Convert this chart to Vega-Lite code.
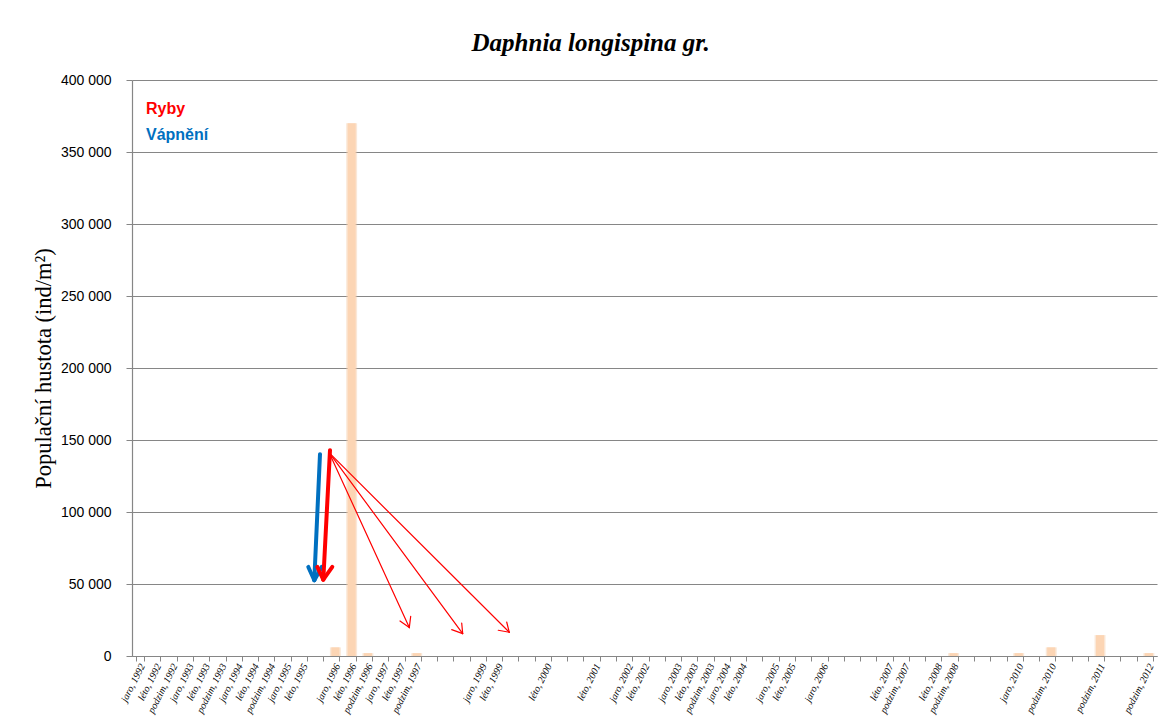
{
  "$schema": "https://vega.github.io/schema/vega-lite/v6.json",
  "width": 1025,
  "height": 576,
  "autosize": {"type": "none"},
  "padding": {"left": 132, "top": 80, "right": 7, "bottom": 62},
  "background": "white",
  "title": {
    "text": "Daphnia longispina gr.",
    "font": "Liberation Serif",
    "fontSize": 25,
    "fontWeight": "bold",
    "fontStyle": "italic",
    "color": "black",
    "anchor": "middle",
    "frame": "bounds",
    "offset": 17,
    "dx": -4
  },
  "config": {
    "view": {"stroke": null},
    "locale": {
      "number": {"decimal": ",", "thousands": " ", "grouping": [3], "currency": ["", " Kč"]}
    }
  },
  "datasets": {
    "hustota": [
      {"sezona": "jaro, 1992", "hodnota": 0},
      {"sezona": "léto, 1992", "hodnota": 0},
      {"sezona": "podzim, 1992", "hodnota": 0},
      {"sezona": "jaro, 1993", "hodnota": 0},
      {"sezona": "léto, 1993", "hodnota": 0},
      {"sezona": "podzim, 1993", "hodnota": 0},
      {"sezona": "jaro, 1994", "hodnota": 0},
      {"sezona": "léto, 1994", "hodnota": 0},
      {"sezona": "podzim, 1994", "hodnota": 0},
      {"sezona": "jaro, 1995", "hodnota": 0},
      {"sezona": "léto, 1995", "hodnota": 0},
      {"sezona": "podzim, 1995", "hodnota": null},
      {"sezona": "jaro, 1996", "hodnota": 6000},
      {"sezona": "léto, 1996", "hodnota": 370000},
      {"sezona": "podzim, 1996", "hodnota": 2000},
      {"sezona": "jaro, 1997", "hodnota": 0},
      {"sezona": "léto, 1997", "hodnota": 0},
      {"sezona": "podzim, 1997", "hodnota": 2000},
      {"sezona": "jaro, 1998", "hodnota": null},
      {"sezona": "léto, 1998", "hodnota": null},
      {"sezona": "podzim, 1998", "hodnota": null},
      {"sezona": "jaro, 1999", "hodnota": 0},
      {"sezona": "léto, 1999", "hodnota": 0},
      {"sezona": "podzim, 1999", "hodnota": null},
      {"sezona": "jaro, 2000", "hodnota": null},
      {"sezona": "léto, 2000", "hodnota": 0},
      {"sezona": "podzim, 2000", "hodnota": null},
      {"sezona": "jaro, 2001", "hodnota": null},
      {"sezona": "léto, 2001", "hodnota": 0},
      {"sezona": "podzim, 2001", "hodnota": null},
      {"sezona": "jaro, 2002", "hodnota": 0},
      {"sezona": "léto, 2002", "hodnota": 0},
      {"sezona": "podzim, 2002", "hodnota": null},
      {"sezona": "jaro, 2003", "hodnota": 0},
      {"sezona": "léto, 2003", "hodnota": 0},
      {"sezona": "podzim, 2003", "hodnota": 0},
      {"sezona": "jaro, 2004", "hodnota": 0},
      {"sezona": "léto, 2004", "hodnota": 0},
      {"sezona": "podzim, 2004", "hodnota": null},
      {"sezona": "jaro, 2005", "hodnota": 0},
      {"sezona": "léto, 2005", "hodnota": 0},
      {"sezona": "podzim, 2005", "hodnota": null},
      {"sezona": "jaro, 2006", "hodnota": 0},
      {"sezona": "léto, 2006", "hodnota": null},
      {"sezona": "podzim, 2006", "hodnota": null},
      {"sezona": "jaro, 2007", "hodnota": null},
      {"sezona": "léto, 2007", "hodnota": 0},
      {"sezona": "podzim, 2007", "hodnota": 0},
      {"sezona": "jaro, 2008", "hodnota": null},
      {"sezona": "léto, 2008", "hodnota": 0},
      {"sezona": "podzim, 2008", "hodnota": 2000},
      {"sezona": "jaro, 2009", "hodnota": null},
      {"sezona": "léto, 2009", "hodnota": null},
      {"sezona": "podzim, 2009", "hodnota": null},
      {"sezona": "jaro, 2010", "hodnota": 2000},
      {"sezona": "léto, 2010", "hodnota": null},
      {"sezona": "podzim, 2010", "hodnota": 6000},
      {"sezona": "jaro, 2011", "hodnota": null},
      {"sezona": "léto, 2011", "hodnota": null},
      {"sezona": "podzim, 2011", "hodnota": 14500},
      {"sezona": "jaro, 2012", "hodnota": null},
      {"sezona": "léto, 2012", "hodnota": null},
      {"sezona": "podzim, 2012", "hodnota": 2000}
    ],
    "sipky": [
      {"sipka": "vapneni", "poradi": 11.555, "hodnota": 140140, "poradi2": 11.205, "hodnota2": 52600},
      {"sipka": "vapneni", "poradi": 11.205, "hodnota": 52600, "poradi2": 10.836, "hodnota2": 61840},
      {"sipka": "vapneni", "poradi": 11.205, "hodnota": 52600, "poradi2": 11.66, "hodnota2": 61840},
      {"sipka": "ryby", "poradi": 12.17, "hodnota": 142920, "poradi2": 11.758, "hodnota2": 53080},
      {"sipka": "ryby", "poradi": 11.758, "hodnota": 53080, "poradi2": 11.389, "hodnota2": 61840},
      {"sipka": "ryby", "poradi": 11.758, "hodnota": 53080, "poradi2": 12.311, "hodnota2": 61840},
      {"sipka": "ryby_tenka", "poradi": 12.127, "hodnota": 141040, "poradi2": 17.044, "hodnota2": 19730},
      {"sipka": "ryby_tenka", "poradi": 17.044, "hodnota": 19730, "poradi2": 16.472, "hodnota2": 24320},
      {"sipka": "ryby_tenka", "poradi": 17.044, "hodnota": 19730, "poradi2": 17.13, "hodnota2": 27580},
      {"sipka": "ryby_tenka", "poradi": 12.127, "hodnota": 141040, "poradi2": 20.326, "hodnota2": 15560},
      {"sipka": "ryby_tenka", "poradi": 20.326, "hodnota": 15560, "poradi2": 19.65, "hodnota2": 18340},
      {"sipka": "ryby_tenka", "poradi": 20.326, "hodnota": 15560, "poradi2": 20.264, "hodnota2": 22930},
      {"sipka": "ryby_tenka", "poradi": 12.127, "hodnota": 141040, "poradi2": 23.19, "hodnota2": 16470},
      {"sipka": "ryby_tenka", "poradi": 23.19, "hodnota": 16470, "poradi2": 22.514, "hodnota2": 17860},
      {"sipka": "ryby_tenka", "poradi": 23.19, "hodnota": 16470, "poradi2": 23.03, "hodnota2": 23620}
    ],
    "popisky": [
      {"text": "Ryby", "skupina": "ryby", "poradi": 0.86, "hodnota": 379850},
      {"text": "Vápnění", "skupina": "vapneni", "poradi": 0.86, "hodnota": 361780}
    ]
  },
  "encoding": {
    "y": {
      "field": "hodnota",
      "type": "quantitative",
      "scale": {"domain": [0, 400000], "nice": false},
      "axis": {
        "title": "Populační hustota (ind/m²)",
        "titleFont": "Liberation Serif",
        "titleFontSize": 22.5,
        "titleFontWeight": "normal",
        "titleColor": "black",
        "titlePadding": 5,
        "values": [0, 50000, 100000, 150000, 200000, 250000, 300000, 350000, 400000],
        "format": ",.0f",
        "labelFont": "Liberation Sans",
        "labelFontSize": 14,
        "labelColor": "black",
        "labelPadding": 15,
        "tickSize": 6,
        "tickColor": "#868686",
        "domainColor": "#868686",
        "domainWidth": 1.2,
        "grid": true,
        "gridColor": "#868686",
        "gridWidth": 1.2
      }
    }
  },
  "layer": [
    {
      "data": {"name": "hustota"},
      "encoding": {
        "x": {
          "field": "sezona",
          "type": "nominal",
          "scale": {
            "domain": ["jaro, 1992", "léto, 1992", "podzim, 1992", "jaro, 1993", "léto, 1993", "podzim, 1993", "jaro, 1994", "léto, 1994", "podzim, 1994", "jaro, 1995", "léto, 1995", "podzim, 1995", "jaro, 1996", "léto, 1996", "podzim, 1996", "jaro, 1997", "léto, 1997", "podzim, 1997", "jaro, 1998", "léto, 1998", "podzim, 1998", "jaro, 1999", "léto, 1999", "podzim, 1999", "jaro, 2000", "léto, 2000", "podzim, 2000", "jaro, 2001", "léto, 2001", "podzim, 2001", "jaro, 2002", "léto, 2002", "podzim, 2002", "jaro, 2003", "léto, 2003", "podzim, 2003", "jaro, 2004", "léto, 2004", "podzim, 2004", "jaro, 2005", "léto, 2005", "podzim, 2005", "jaro, 2006", "léto, 2006", "podzim, 2006", "jaro, 2007", "léto, 2007", "podzim, 2007", "jaro, 2008", "léto, 2008", "podzim, 2008", "jaro, 2009", "léto, 2009", "podzim, 2009", "jaro, 2010", "léto, 2010", "podzim, 2010", "jaro, 2011", "léto, 2011", "podzim, 2011", "jaro, 2012", "léto, 2012", "podzim, 2012"],
            "paddingInner": 0.5,
            "paddingOuter": 0.25
          },
          "axis": {
            "title": null,
            "labelAngle": -63,
            "labelAlign": "right",
            "labelBaseline": "middle",
            "labelFont": "Liberation Serif",
            "labelFontStyle": "italic",
            "labelFontSize": 10,
            "labelColor": "black",
            "labelPadding": 3,
            "labelOffset": 2,
            "labelOverlap": false,
            "labelLimit": 200,
            "tickBand": "extent",
            "tickSize": 5,
            "tickColor": "#868686",
            "domainColor": "#868686",
            "domainWidth": 1.2,
            "grid": false,
            "labelExpr": "indexof(['podzim, 1995','jaro, 1998','léto, 1998','podzim, 1998','podzim, 1999','jaro, 2000','podzim, 2000','jaro, 2001','podzim, 2001','podzim, 2002','podzim, 2004','podzim, 2005','léto, 2006','podzim, 2006','jaro, 2007','jaro, 2008','jaro, 2009','léto, 2009','podzim, 2009','léto, 2010','jaro, 2011','léto, 2011','jaro, 2012','léto, 2012'], datum.value) >= 0 ? '' : datum.value"
          }
        }
      },
      "layer": [
        {"mark": {"type": "bar", "color": "#F5CBA8", "opacity": 0.45, "width": {"band": 1.35}}},
        {"mark": {"type": "bar", "color": "#FCD5B4"}}
      ]
    },
    {
      "data": {"name": "sipky"},
      "transform": [{"filter": "datum.sipka === 'ryby_tenka'"}],
      "mark": {"type": "rule", "color": "#FF0000", "strokeWidth": 1.2, "strokeCap": "round"},
      "encoding": {
        "x": {"field": "poradi", "type": "quantitative", "scale": {"domain": [0, 63], "nice": false, "zero": false}, "axis": null},
        "x2": {"field": "poradi2"},
        "y2": {"field": "hodnota2"}
      }
    },
    {
      "data": {"name": "sipky"},
      "transform": [{"filter": "datum.sipka === 'vapneni'"}],
      "mark": {"type": "rule", "color": "#0070C0", "strokeWidth": 4, "strokeCap": "round"},
      "encoding": {
        "x": {"field": "poradi", "type": "quantitative", "scale": {"domain": [0, 63], "nice": false, "zero": false}, "axis": null},
        "x2": {"field": "poradi2"},
        "y2": {"field": "hodnota2"}
      }
    },
    {
      "data": {"name": "sipky"},
      "transform": [{"filter": "datum.sipka === 'ryby'"}],
      "mark": {"type": "rule", "color": "#FF0000", "strokeWidth": 4, "strokeCap": "round"},
      "encoding": {
        "x": {"field": "poradi", "type": "quantitative", "scale": {"domain": [0, 63], "nice": false, "zero": false}, "axis": null},
        "x2": {"field": "poradi2"},
        "y2": {"field": "hodnota2"}
      }
    },
    {
      "data": {"name": "popisky"},
      "mark": {"type": "text", "align": "left", "baseline": "middle", "font": "Liberation Sans", "fontSize": 16, "fontWeight": "bold"},
      "encoding": {
        "x": {"field": "poradi", "type": "quantitative", "scale": {"domain": [0, 63], "nice": false, "zero": false}, "axis": null},
        "text": {"field": "text"},
        "color": {"field": "skupina", "type": "nominal", "scale": {"domain": ["ryby", "vapneni"], "range": ["#FF0000", "#0070C0"]}, "legend": null}
      }
    }
  ],
  "resolve": {"scale": {"x": "independent"}, "axis": {"x": "independent"}}
}
